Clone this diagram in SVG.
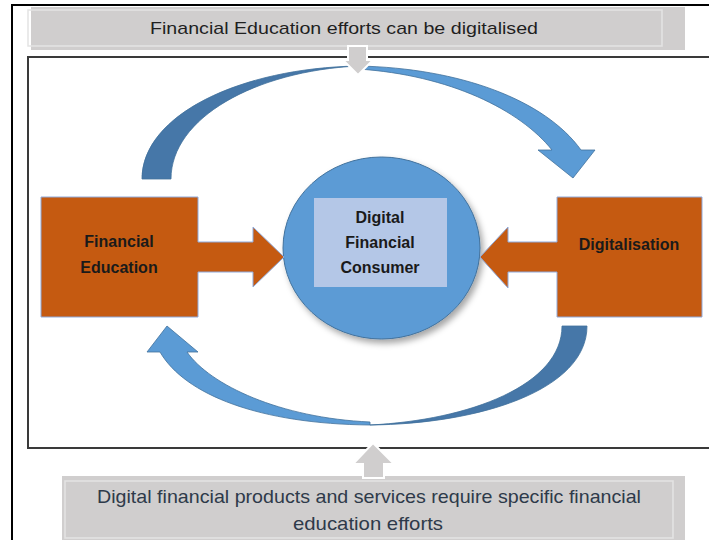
<svg xmlns="http://www.w3.org/2000/svg" width="709" height="540" viewBox="0 0 709 540">
  <style>
    .banner { fill: #d0cece; }
    .banner-edge { fill: none; stroke: #e4e4e4; stroke-width: 1.5; }
    .banner-text { font-family: "Liberation Sans", Arial, sans-serif; font-size: 17px; text-anchor: middle; }
    .block { fill: #d0cece; stroke: #ffffff; stroke-width: 2; }
    .orange { fill: #c55a11; stroke: #8faadc; stroke-width: 1; }
    .label { font-family: "Liberation Sans", Arial, sans-serif; font-size: 16px; font-weight: bold; fill: #1a1a1a; text-anchor: middle; }
    .band-dark { fill: #4677a8; stroke: #41719c; stroke-width: 0.8; }
    .band-light { fill: #5b9bd5; stroke: #41719c; stroke-width: 0.8; }
  </style>
  <defs>
    <filter id="soft-shadow" x="-20%" y="-20%" width="150%" height="150%">
      <feDropShadow dx="3" dy="4" stdDeviation="3" flood-color="#000000" flood-opacity="0.35"/>
    </filter>
  </defs>

  <rect width="709" height="540" fill="#ffffff"/>

  <!-- outer page frame -->
  <path d="M12,540 V5 H709" fill="none" stroke="#000000" stroke-width="2"/>
  <!-- inner frame -->
  <path d="M709,57 H28 V448 H709" fill="none" stroke="#3a3a3a" stroke-width="2"/>

  <!-- top statement -->
  <g id="banner-top">
    <rect class="banner" x="31" y="7" width="654" height="43"/>
    <rect class="banner-edge" x="28" y="10" width="634" height="36"/>
    <text class="banner-text" x="344" y="34" fill="#1f1f1f" textLength="388" lengthAdjust="spacingAndGlyphs">Financial Education efforts can be digitalised</text>
  </g>

  <!-- bottom statement -->
  <g id="banner-bottom">
    <rect class="banner" x="62" y="476" width="623" height="64"/>
    <rect class="banner-edge" x="65" y="481" width="608" height="57"/>
    <text class="banner-text" x="369" y="503" fill="#2e3a4a" style="font-size:19px" textLength="544" lengthAdjust="spacingAndGlyphs">Digital financial products and services require specific financial</text>
    <text class="banner-text" x="368" y="530" fill="#2e3a4a" style="font-size:19px" textLength="150" lengthAdjust="spacingAndGlyphs">education efforts</text>
  </g>

  <!-- central consumer -->
  <g id="consumer">
    <ellipse cx="381.5" cy="248" rx="98.5" ry="91" fill="#5b9bd5" stroke="#41719c" stroke-width="1" filter="url(#soft-shadow)"/>
    <rect x="314" y="198" width="133" height="89" fill="#b4c7e7"/>
    <text class="label" x="380" y="223">Digital</text>
    <text class="label" x="380" y="248">Financial</text>
    <text class="label" x="380" y="273">Consumer</text>
  </g>

  <!-- financial education block with its arrow -->
  <g id="financial-education">
    <path class="orange" d="M41,197 H198 V242 H253 V227 L284,257 L253,287 V272 H198 V317 H41 Z"/>
    <text class="label" x="119" y="247">Financial</text>
    <text class="label" x="119" y="273">Education</text>
  </g>

  <!-- digitalisation block with its arrow -->
  <g id="digitalisation">
    <path class="orange" d="M702,197 H557 V242 H508 V227 L480,257 L508,288 V272 H557 V317 H702 Z"/>
    <text class="label" x="629" y="250">Digitalisation</text>
  </g>

  <g id="connectors">
    <!-- upper cycle arrow: education towards digitalisation -->
    <path class="band-dark" d="M142,179 C142,115 240,68 358,66 C255,71 171,118 171,179 Z"/>
    <path class="band-light" d="M358,66 C460,68 545,100 581,150 L595,150 L573,178 L538,150 L552,150 C520,110 450,75 358,69 Z"/>
    <!-- lower cycle arrow: digitalisation towards education -->
    <path class="band-dark" d="M587,326 C587,390 480,424 370,425 C470,420 562,385 562,326 Z"/>
    <path class="band-light" d="M370,425 C260,424 185,395 160,352 L147,352 L167,326 L198,352 L187,352 C210,385 280,418 370,422 Z"/>
    <!-- statement arrows -->
    <path class="block" d="M348,46 H367 V60 H373 L358,75 L343,60 H348 Z"/>
    <path class="block" d="M363,478 V464 H353 L373,443 L394,464 H384 V478 Z"/>
  </g>
</svg>
